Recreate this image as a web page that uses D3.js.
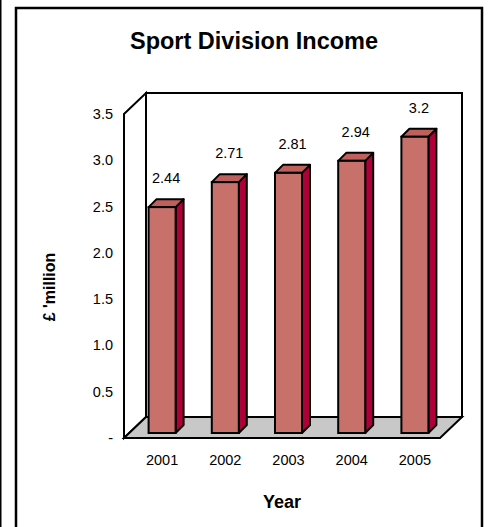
<!DOCTYPE html>
<html>
<head>
<meta charset="utf-8">
<script src="https://cdn.jsdelivr.net/npm/d3@7"></script>
<style>
  html, body { margin: 0; padding: 0; background: #fff; }
  svg { display: block; }
  text { font-family: Arial, "Liberation Sans", sans-serif; fill: #000; }
</style>
</head>
<body>
<svg id="chart" width="490" height="527"></svg>
<script>
const years = ["2001", "2002", "2003", "2004", "2005"];
const income = [2.44, 2.71, 2.81, 2.94, 3.2];
const valueLabels = ["2.44", "2.71", "2.81", "2.94", "3.2"];
const yTicks = [0, 0.5, 1.0, 1.5, 2.0, 2.5, 3.0, 3.5];
const yTickLabels = ["-", "0.5", "1.0", "1.5", "2.0", "2.5", "3.0", "3.5"];
const title = "Sport Division Income";
const xTitle = "Year";
const yTitle = "£ 'million";

const svg = d3.select("#chart");

// page frame
svg.append("line").attr("x1", 0.75).attr("x2", 0.75).attr("y1", 0).attr("y2", 527)
  .attr("stroke", "#000").attr("stroke-width", 1.5);
svg.append("rect").attr("x", 16).attr("y", 8).attr("width", 466).attr("height", 540)
  .attr("fill", "none").attr("stroke", "#000").attr("stroke-width", 2.5);

// scales (front plane)
const y = d3.scaleLinear().domain([0, 3.5]).range([438, 114]);
const x = d3.scaleBand().domain(years).range([124, 440]).padding(0);
const DX = 22, DY = -21;          // full depth offset
const FX = 5, FY = -5;            // bar front plane offset
const BD = 8;                     // bar depth
const barW = 27;

const x0 = x.range()[0], x1 = x.range()[1];
const yb = y(0), yt = y(3.5);

const line = d3.line();
// back wall
svg.append("path")
  .attr("d", line([[x0+DX, yt+DY], [x1+DX, yt+DY], [x1+DX, yb+DY], [x0+DX, yb+DY]]) + "Z")
  .attr("fill", "#fff").attr("stroke", "#000").attr("stroke-width", 2);
// side wall
svg.append("path")
  .attr("d", line([[x0, yt], [x0+DX, yt+DY], [x0+DX, yb+DY], [x0, yb]]) + "Z")
  .attr("fill", "#fff").attr("stroke", "#000").attr("stroke-width", 2);
// floor
svg.append("path")
  .attr("d", line([[x0, yb], [x0+DX, yb+DY], [x1+DX, yb+DY], [x1, yb]]) + "Z")
  .attr("fill", "#c8c8c8").attr("stroke", "#000").attr("stroke-width", 2);

// y tick labels
svg.append("g").selectAll("text").data(yTicks).join("text")
  .attr("x", 113).attr("y", d => y(d) + 5)
  .attr("text-anchor", "end").attr("font-size", 14.5)
  .text((d, i) => yTickLabels[i]);

// bars
const bars = svg.append("g").selectAll("g").data(years).join("g");
const bx = (c) => x(c) + (x.bandwidth() - barW) / 2 + FX + 1.5;
bars.each(function (c, i) {
  const g = d3.select(this);
  const l = bx(c), r = l + barW;
  const top = y(income[i]) + FY, bot = y(0) + FY;
  // side
  g.append("path")
    .attr("d", line([[r, top], [r+BD, top-BD], [r+BD, bot-BD], [r, bot]]) + "Z")
    .attr("fill", "#b0003a").attr("stroke", "#000").attr("stroke-width", 2).attr("stroke-linejoin", "round");
  // top
  g.append("path")
    .attr("d", line([[l, top], [l+BD, top-BD], [r+BD, top-BD], [r, top]]) + "Z")
    .attr("fill", "#c0605c").attr("stroke", "#000").attr("stroke-width", 2).attr("stroke-linejoin", "round");
  // front
  g.append("rect").attr("x", l).attr("y", top).attr("width", barW).attr("height", bot - top)
    .attr("fill", "#c8706a").attr("stroke", "#000").attr("stroke-width", 2);
  // value label
  g.append("text").attr("x", l + (barW + BD) / 2).attr("y", top - 24)
    .attr("text-anchor", "middle").attr("font-size", 14.5).text(valueLabels[i]);
  // category label
  g.append("text").attr("x", l + barW / 2).attr("y", 465)
    .attr("text-anchor", "middle").attr("font-size", 14.5).text(c);
});

// titles
svg.append("text").attr("x", 254).attr("y", 49).attr("text-anchor", "middle")
  .attr("font-size", 23.5).attr("font-weight", "bold").text(title);
svg.append("text").attr("x", 282).attr("y", 508).attr("text-anchor", "middle")
  .attr("font-size", 18).attr("font-weight", "bold").text(xTitle);
svg.append("text").attr("transform", "translate(55,287) rotate(-90)").attr("text-anchor", "middle")
  .attr("font-size", 16).attr("font-weight", "bold").text(yTitle);
</script>
</body>
</html>
